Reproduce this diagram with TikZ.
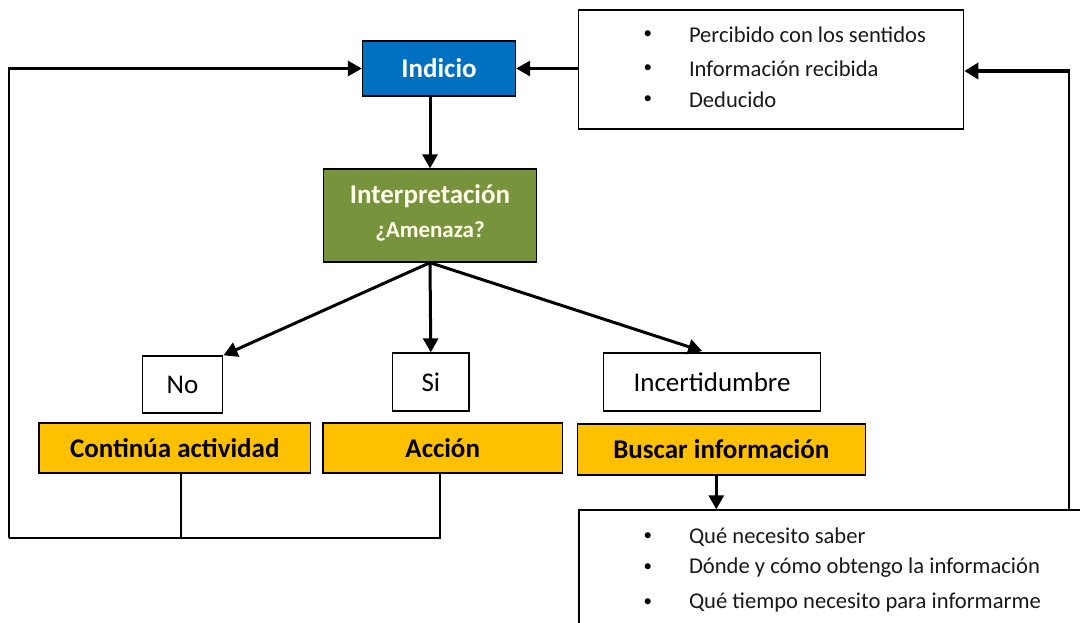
\documentclass[tikz,border=0pt]{standalone}
\usepackage{fontspec}
\setmainfont{Carlito}
\usetikzlibrary{arrows.meta,calc}
\definecolor{cblue}{HTML}{0070C0}
\definecolor{cgreen}{HTML}{77933C}
\definecolor{corange}{HTML}{FFC000}
\begin{document}
\begin{tikzpicture}[x=1pt,y=-1pt,
  box/.style={draw=black,line width=1.3pt,inner sep=0pt,rectangle,align=center},
  arr/.style={line width=3pt,-{Triangle[length=14pt,width=15pt]}},
  thinline/.style={line width=1.4pt},
  maintext/.style={font=\fontsize{27}{30}\selectfont},
  bold/.style={font=\fontsize{27}{30}\selectfont\bfseries},
  bullettext/.style={font=\fontsize{22.6}{25}\selectfont,anchor=west,inner sep=0pt,text=black!90},
  bulletdot/.style={font=\fontsize{17}{20}\selectfont,inner sep=0pt}]
\useasboundingbox (0,0) rectangle (1080,623);
\clip (0,0) rectangle (1080,623);
% nodes
\node[box,fill=cblue,text=white,bold,minimum width=153pt,minimum height=55pt] (ind) at (439,68.5) {Indicio};
\node[box,fill=cgreen,minimum width=213.5pt,minimum height=93pt] (int) at (430,215.5) {};
\node[text=yellow!8,bold,inner sep=0pt] (intt) at (430,196) {Interpretación};
\node[text=yellow!8,font=\fontsize{23}{26}\selectfont\bfseries,inner sep=0pt] (intq) at (430,231) {¿Amenaza?};
\node[box,fill=white,minimum width=385pt,minimum height=119pt] (top) at (771.2,69.5) {};
\node[box,maintext,minimum width=80.6pt,minimum height=57pt] (no) at (182.5,384.5) {No};
\node[box,maintext,minimum width=76.4pt,minimum height=58pt] (si) at (430.8,382) {Si};
\node[box,maintext,minimum width=217pt,minimum height=58pt] (inc) at (712,382) {Incertidumbre};
\node[box,fill=corange,bold,minimum width=271.7pt,minimum height=50pt] (cont) at (174.8,448) {Continúa actividad};
\node[box,fill=corange,bold,minimum width=239.4pt,minimum height=50pt] (acc) at (442.7,448) {Acción};
\node[box,fill=corange,bold,minimum width=288pt,minimum height=51pt] (bus) at (721.3,449.5) {Buscar información};
\node[box,fill=white,minimum width=521pt,minimum height=140pt] (bot) at (839.5,580) {};
% bullets top
\foreach \y/\t [count=\i] in {35/Percibido con los sentidos,69/Información recibida,100/Deducido}{
  \node[bulletdot] (tb\i) at (647.8,\y) {•};
  \node[bullettext] (tt\i) at (688.8,\y) {\t};
}
% bullets bottom
\foreach \y/\t [count=\i] in {537/Qué necesito saber,568/Dónde y cómo obtengo la información,603/Qué tiempo necesito para informarme}{
  \node[bulletdot] (bb\i) at (647.8,\y) {•};
  \node[bullettext] (bt\i) at (688.8,\y) {\t};
}
% arrows
\draw[arr] (ind.south -| int.north) -- (int.north);
\draw[arr] (int.south) -- (no.north east);
\draw[arr] (int.south) -- (si.north);
\draw[arr,shorten >=4pt] (int.south) -- ($(inc.north)+(-6,0)$);
\draw[arr] (top.west |- ind.east) -- (ind.east);
\draw[arr] (bus.south -| 716.3,0) -- (bot.north -| 716.3,0);
% left loop
\coordinate (lb) at (8.6,538);
\coordinate (lt) at (8.6,68.5);
\coordinate (cd) at (180.8,538);
\coordinate (ad) at (440,538);
\draw[thinline] (cont.south -| cd) -- (cd);
\draw[thinline] (acc.south -| ad) -- (ad) -- (lb);
\draw[line width=2pt] (lb) -- (lt);
\draw[arr] ($(lt)+(-1,0)$) -- (ind.west);
% right loop
\coordinate (rb) at (1068.6,510);
\coordinate (rt) at (1068.6,71);
\draw[line width=2pt] (rb) -- (rt);
\draw[line width=4pt,-{Triangle[length=14pt,width=16pt]}] ($(rt)+(1,0)$) -- (top.east |- rt);
\end{tikzpicture}
\end{document}
